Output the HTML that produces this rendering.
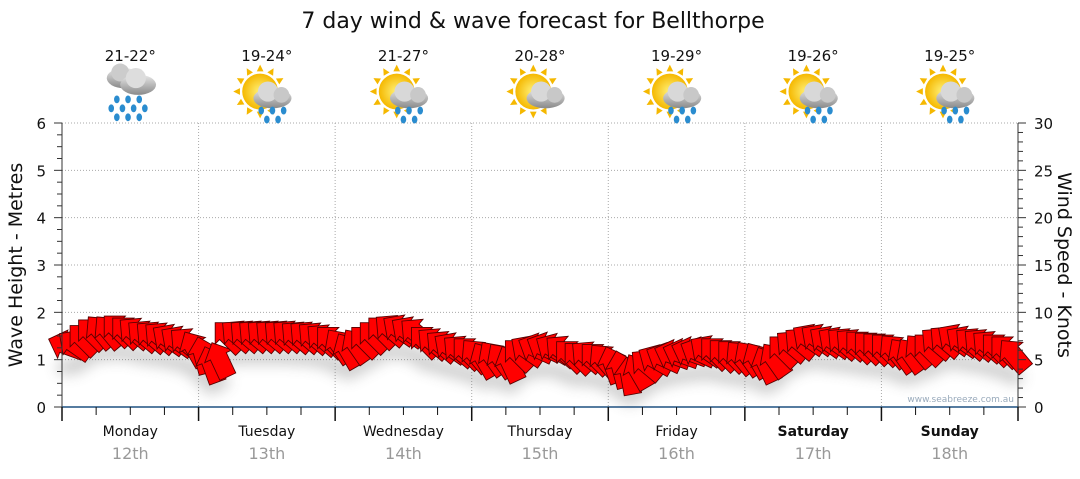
<!DOCTYPE html>
<html><head><meta charset="utf-8"><style>
body{margin:0;background:#fff;font-family:"DejaVu Sans",sans-serif}
svg text{font-family:"DejaVu Sans","Liberation Sans",sans-serif}
</style></head><body>
<svg id="c" width="1080" height="475" viewBox="0 0 1080 475" xmlns="http://www.w3.org/2000/svg">
<defs>
<filter id="sh" x="-20%" y="-50%" width="140%" height="250%"><feGaussianBlur stdDeviation="7"/></filter>
<radialGradient id="sun" cx="50%" cy="50%" r="50%"><stop offset="0" stop-color="#fff27a"/><stop offset="1" stop-color="#f5b800"/></radialGradient>
<linearGradient id="cl" x1="0" y1="0" x2="0" y2="1"><stop offset="0" stop-color="#e8e8e8"/><stop offset="1" stop-color="#8a8a8a"/></linearGradient>
</defs>
<text x="533" y="28" font-size="22" text-anchor="middle" fill="#111">7 day wind &amp; wave forecast for Bellthorpe</text>
<g id="grid"></g>
<g id="shadow" filter="url(#sh)" opacity="0.3"></g>
<g id="arrows"></g>
<g id="axes"></g>
<g id="icons"></g>
<text transform="translate(22,265) rotate(-90)" font-size="19" text-anchor="middle" fill="#111">Wave Height - Metres</text>
<text transform="translate(1058,265) rotate(90)" font-size="19" text-anchor="middle" fill="#111">Wind Speed - Knots</text>
<text x="1014" y="402" font-size="9" text-anchor="end" fill="#9ab">www.seabreeze.com.au</text>
</svg>
<script>
const days=["Monday","Tuesday","Wednesday","Thursday","Friday","Saturday","Sunday"];
const dates=["12th","13th","14th","15th","16th","17th","18th"];
const temps=["21-22°","19-24°","21-27°","20-28°","19-29°","19-26°","19-25°"];
const icons=["rain","sunrain","sunrain","suncloud","sunrain","sunrain","sunrain"];
const waveTicks=[0,1,2,3,4,5,6];
const windTicks=[0,5,10,15,20,25,30];
const windKnots=[6.5,6.6,7.2,7.8,8.0,8.0,8.2,8.0,7.9,7.6,7.5,7.4,7.2,7.0,6.8,6.2,
5.5,4.5,5,7.5,7.6,7.6,7.6,7.6,7.6,7.6,7.6,7.5,7.5,7.4,7.2,7,
6.5,6,6.5,7,7.5,8,8.2,8.2,8,7.8,7,6.8,6.5,6.3,6,5.8,
5.5,5,5.2,5,4.6,5.6,6,6.2,6.3,6.2,6,5.5,5.3,5.4,5.2,5,
4.5,4,3.3,3.8,4.5,5,5.2,5.5,5.6,5.8,5.8,6,5.8,5.6,5.5,5.3,
5.2,5,4.5,5,6,6.5,6.8,7.2,7.2,7,6.9,6.8,6.7,6.5,6.4,6.3,
6.2,6,5.5,5.5,6,6.2,6.8,7,7.2,7,6.8,6.7,6.5,6.2,6,5.5];
const windDir=[200,215,225,225,230,230,225,225,220,220,220,220,215,215,220,240,
255,250,245,225,220,220,220,220,220,220,220,220,220,220,220,225,
235,240,235,225,225,225,220,215,215,220,225,220,220,215,220,225,
230,240,235,235,245,225,215,205,205,210,220,225,225,220,225,230,
250,255,260,240,220,210,205,200,200,200,205,215,225,225,225,230,
235,240,245,235,225,220,220,215,215,215,215,220,220,225,225,225,
225,230,235,235,230,225,220,220,215,215,220,220,220,225,225,230];
const NS="http://www.w3.org/2000/svg";
const X0=62,X1=1018,Y0=407,Y1=123;
const dayW=(X1-X0)/7;
const yWave=v=>Y0-(v/6)*(Y0-Y1);
const yWind=v=>Y0-(v/30)*(Y0-Y1);
const xIdx=i=>X0+(i+0.5)*(X1-X0)/windKnots.length;
function mk(tag,attrs,parent){const e=document.createElementNS(NS,tag);for(const k in attrs)e.setAttribute(k,attrs[k]);document.getElementById(parent).appendChild(e);return e;}
waveTicks.forEach(v=>{if(v>0){const l=mk('line',{x1:X0,x2:X1,y1:yWave(v),y2:yWave(v),stroke:'#aaa','stroke-dasharray':'1,2'},'grid');

}});
for(let d=1;d<7;d++){const l=mk('line',{x1:X0+d*dayW,x2:X0+d*dayW,y1:Y1,y2:Y0,stroke:'#aaa','stroke-dasharray':'1,2'},'grid');

}
mk('line',{x1:X0,x2:X0,y1:Y1,y2:Y0,stroke:'#333'},'axes');
mk('line',{x1:X1,x2:X1,y1:Y1,y2:Y0,stroke:'#333'},'axes');
mk('line',{x1:X0,x2:X1,y1:Y0,y2:Y0,stroke:'#1f5080','stroke-width':1.5},'axes');
for(let v=0;v<=6.001;v+=0.25){mk('line',{x1:X0-(v%1===0?8:5),x2:X0,y1:yWave(v),y2:yWave(v),stroke:'#333'},'axes');}
for(let v=0;v<=30.001;v+=1){mk('line',{x1:X1,x2:X1+(v%5===0?8:5),y1:yWind(v),y2:yWind(v),stroke:'#333'},'axes');}
waveTicks.forEach(v=>{const t=mk('text',{x:X0-16,y:yWave(v)+6,'font-size':15,'text-anchor':'end',fill:'#111'},'axes');t.textContent=v;

});
windTicks.forEach(v=>{const t=mk('text',{x:X1+16,y:yWind(v)+6,'font-size':15,'text-anchor':'start',fill:'#111'},'axes');t.textContent=v;

});
for(let i=0;i<=28;i++){const x=X0+i*dayW/4;const maj=i%4===0;mk('line',{x1:x,x2:x,y1:Y0,y2:Y0+(maj?14:8),stroke:'#111','stroke-width':maj?1.5:1},'axes');}
days.forEach((d,i)=>{const cx=X0+(i+0.5)*dayW;const bold=i>=5;
const t=mk('text',{x:cx,y:436,'font-size':14,'text-anchor':'middle',fill:'#111','font-weight':bold?'bold':'normal'},'axes');t.textContent=d;


const t2=mk('text',{x:cx,y:459,'font-size':16,'text-anchor':'middle',fill:'#999'},'axes');t2.textContent=dates[i];


const t3=mk('text',{x:cx,y:61,'font-size':15,'text-anchor':'middle',fill:'#111'},'icons');t3.textContent=temps[i];


const g=mk('g',{transform:`translate(${cx},96) scale(1.12)`},'icons');


let s='';
if(icons[i]!=='rain'){for(let r=0;r<12;r++){const a=r*30;s+=`<polygon points="-3,-18 3,-18 0,-24" fill="#f5b800" transform="translate(-6,-4) rotate(${a})"/>`;}s+=`<circle cx="-6" cy="-4" r="16" fill="url(#sun)"/>`;
s+=`<g transform="translate(5,2)"><ellipse cx="0" cy="0" rx="17" ry="9" fill="url(#cl)"/><circle cx="-4" cy="-6" r="9" fill="#d8d8d8"/><circle cx="8" cy="-3" r="7" fill="#c8c8c8"/></g>`;
if(icons[i]==='sunrain'){[[-5,13],[5,13],[15,13],[0,21],[10,21]].forEach(p=>s+=`<ellipse cx="${p[0]}" cy="${p[1]}" rx="2.5" ry="3.5" fill="#2a8ccf"/>`);}}
else{s+=`<g transform="translate(-6,-16)"><ellipse rx="15" ry="9" fill="url(#cl)"/><circle cx="-3" cy="-5" r="8" fill="#ccc"/></g><g transform="translate(7,-10)"><ellipse rx="16" ry="9" fill="url(#cl)"/><circle cx="-2" cy="-6" r="9" fill="#ddd"/></g>`;
[[-12,3],[-2,3],[8,3],[-17,11],[-7,11],[3,11],[13,11],[-12,19],[-2,19],[8,19]].forEach(p=>s+=`<ellipse cx="${p[0]}" cy="${p[1]}" rx="2.5" ry="3.5" fill="#2a8ccf"/>`);}
g.innerHTML=s;});
const pts="-15,-7 3,-7 3,-12 15,0 3,12 3,7 -15,7";
windKnots.forEach((k,i)=>{const x=xIdx(i),y=yWind(k);
mk('ellipse',{cx:x,cy:y+22,rx:10,ry:7,fill:'#555'},'shadow');
const p=mk('polygon',{points:pts,fill:'#f00',stroke:'#500','stroke-width':0.7,transform:`translate(${x},${y}) rotate(${windDir[i]}) scale(1.25)`},'arrows');

});
</script>
</body></html>
